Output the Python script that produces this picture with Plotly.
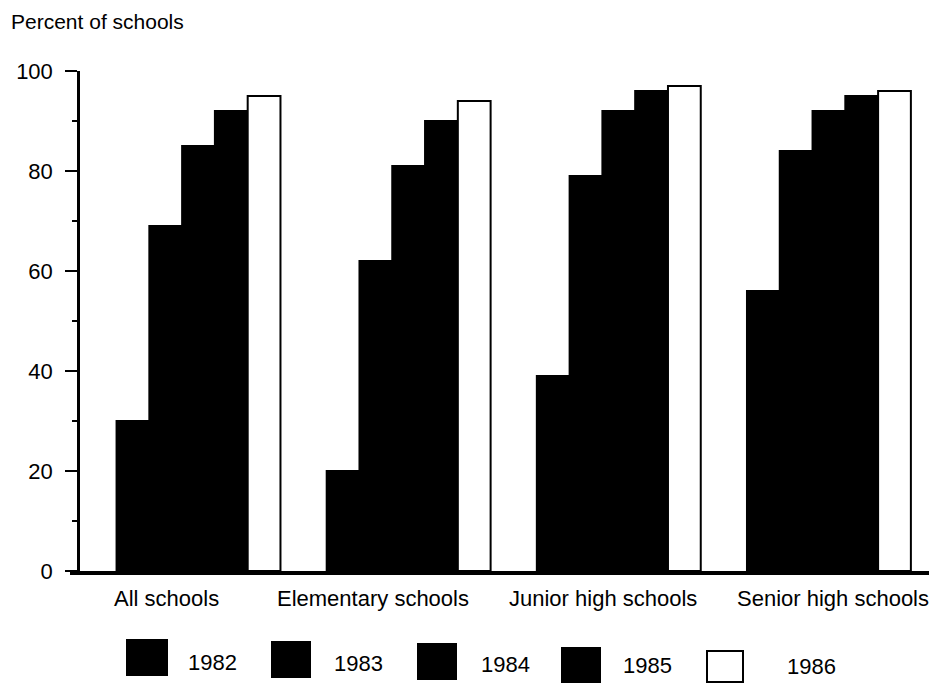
import plotly.graph_objects as go

categories = ["All schools", "Elementary schools", "Junior high schools", "Senior high schools"]
years = ["1982", "1983", "1984", "1985", "1986"]
v1982 = [30, 20, 39, 56]
v1983 = [69, 62, 79, 84]
v1984 = [85, 81, 92, 92]
v1985 = [92, 90, 96, 95]
v1986 = [95, 94, 97, 96]
series = [v1982, v1983, v1984, v1985, v1986]
fills = ["black", "black", "black", "black", "white"]

FONT = "Liberation Sans, Arial, sans-serif"

# the page body adds an 8px margin; work in page pixels and convert
OFF = 8
FW, FH = 937 - OFF, 684 - OFF

fig = go.Figure()
for yr, vals, col in zip(years, series, fills):
    fig.add_trace(go.Bar(
        x=list(range(len(categories))), y=vals, name=yr,
        marker=dict(color=col, line=dict(color="black", width=2)),
        showlegend=False,
    ))

# plot area in page pixels
L, R, T, B = 80, 934, 71, 571
W, H = R - L, B - T

def px_x(p):
    return (p - L) / W

def px_y(p):
    return (B - p) / H

# category labels (annotations under each group)
label_shift = [-32, -36, -16, 4]
annotations = []
for i, (c, s) in enumerate(zip(categories, label_shift)):
    annotations.append(dict(
        x=i, y=0, xref="x", yref="y", text=c, showarrow=False,
        xshift=s, yshift=-27, yanchor="middle", xanchor="center",
        font=dict(family=FONT, size=22, color="black"),
    ))

# custom legend: large squares with year labels
leg_sq = [(127, 167, 640, 675), (272, 310, 642, 677), (418, 456, 644, 679),
          (562, 600, 648, 682), (707, 743, 651, 682)]
leg_txt = [(212, 662), (358, 663), (505, 664), (647, 665), (811, 666)]
shapes = []
for yr, col, (x0, x1, y0, y1), (tx, ty) in zip(years, fills, leg_sq, leg_txt):
    shapes.append(dict(type="rect", xref="paper", yref="paper",
                       x0=px_x(x0), x1=px_x(x1), y0=px_y(y1), y1=px_y(y0),
                       fillcolor=col, line=dict(color="black", width=2)))
    annotations.append(dict(x=px_x(tx), y=px_y(ty), xref="paper", yref="paper",
                            text=yr, showarrow=False, xanchor="center", yanchor="middle",
                            font=dict(family=FONT, size=22, color="black")))

# bottom baseline extending slightly left of the y axis
shapes.append(dict(type="line", xref="paper", yref="paper",
                   x0=px_x(70), x1=px_x(935), y0=px_y(573), y1=px_y(573),
                   line=dict(color="black", width=4)))

fig.update_layout(
    width=FW, height=FH,
    margin=dict(l=L - OFF, r=FW - (R - OFF), t=T - OFF, b=FH - (B - OFF), pad=0),
    paper_bgcolor="white", plot_bgcolor="white",
    barmode="group", bargap=0.22, bargroupgap=0,
    title=dict(text="Percent of schools", x=(11 - OFF) / FW, xanchor="left",
               y=1 - (22 - OFF) / FH, yanchor="middle", xref="container", yref="container",
               font=dict(family=FONT, size=21, color="black")),
    xaxis=dict(range=[-0.564, 3.5], showticklabels=False, showgrid=False,
               zeroline=False, showline=False, ticks=""),
    yaxis=dict(range=[0, 100], tickvals=[0, 20, 40, 60, 80, 100], showgrid=False,
               zeroline=False, showline=True, linecolor="black", linewidth=2.5,
               ticks="outside", ticklen=12, tickwidth=2, tickcolor="black",
               ticklabelstandoff=8,
               minor=dict(tickvals=[10, 30, 50, 70, 90], ticks="outside", ticklen=5,
                          tickwidth=2, tickcolor="black", showgrid=False),
               tickfont=dict(family=FONT, size=22, color="black")),
    shapes=shapes, annotations=annotations,
    showlegend=False,
)

fig.write_html("out.html")
